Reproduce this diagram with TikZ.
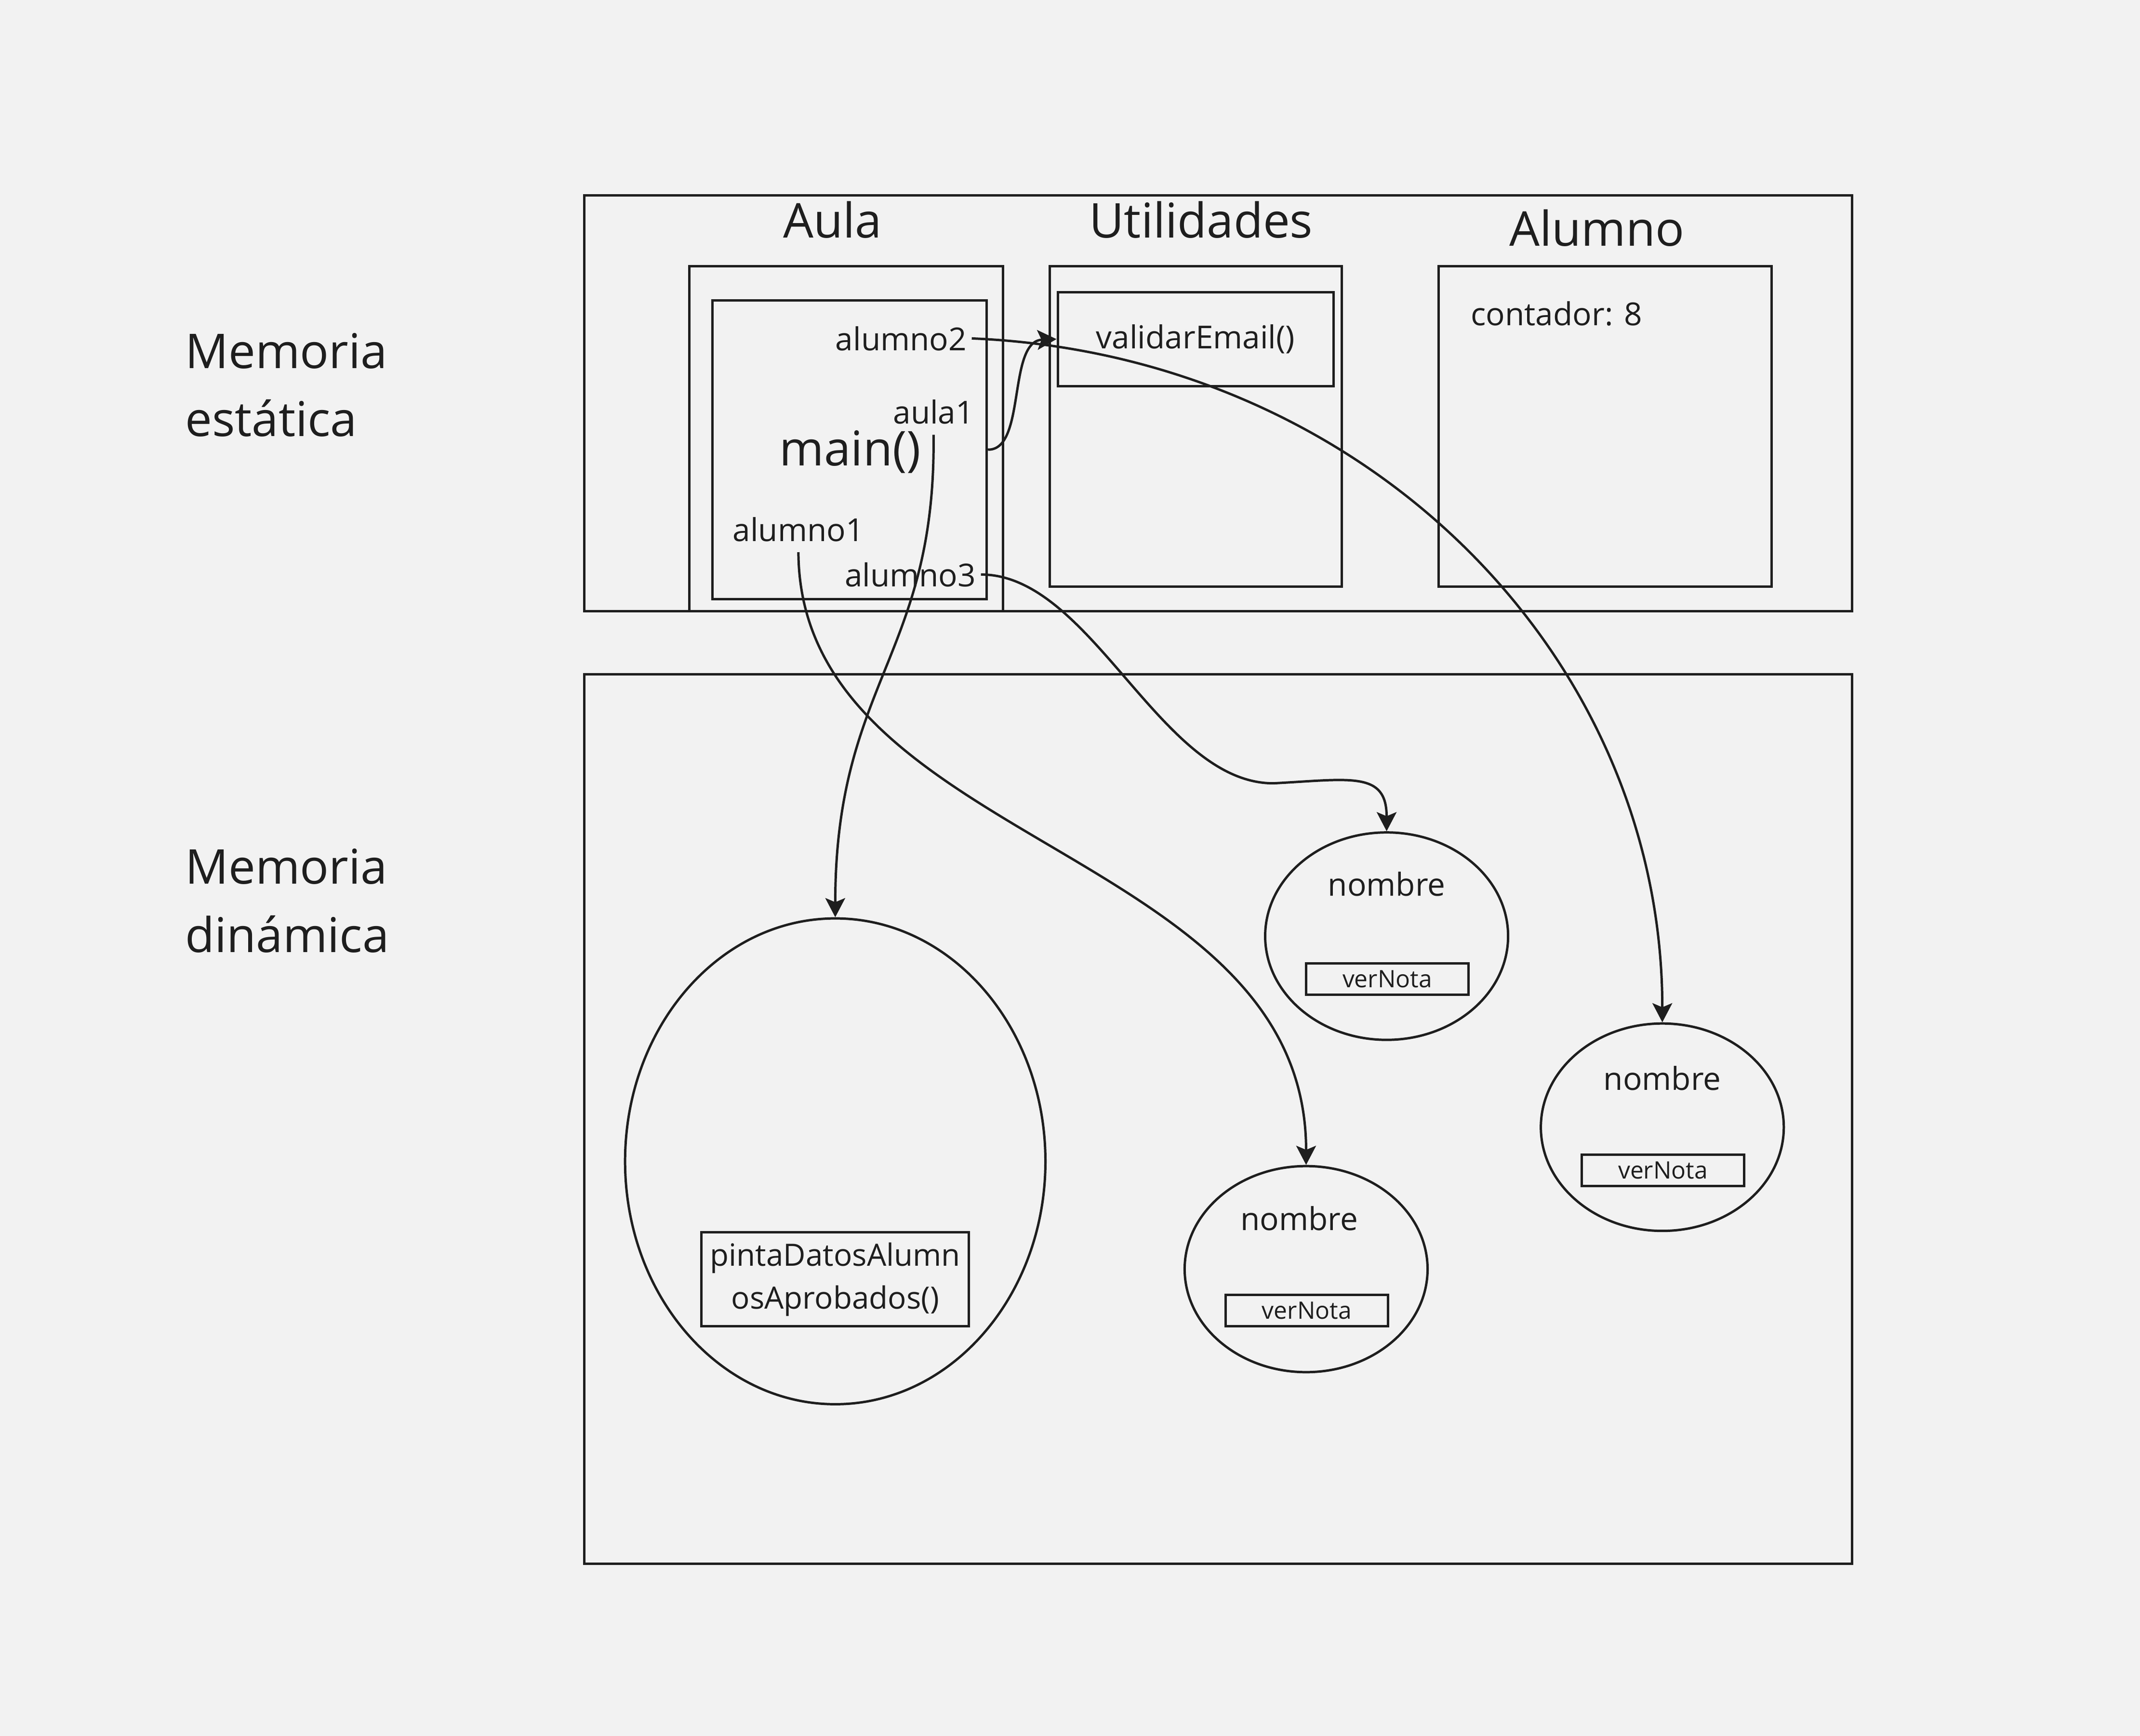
\documentclass[tikz,border=0pt]{standalone}
\usepackage{fontspec}
\setmainfont{Open Sans}
\usetikzlibrary{positioning,shapes.geometric,arrows.meta}
\definecolor{ink}{HTML}{1E1E1E}
\definecolor{paper}{HTML}{F2F2F2}
\tikzset{block/.style={draw=ink,line width=0.5pt,inner sep=0pt,text=ink}}
\tikzset{obj/.style={block,ellipse}}
\tikzset{method/.style={block,minimum width=11.9mm,minimum height=2.3mm,font=\fontsize{5}{6}\selectfont}}
\tikzset{title/.style={text=ink,inner sep=0pt,font=\fontsize{10}{14.2}\selectfont}}
\tikzset{var/.style={text=ink,inner xsep=0.3mm,inner ysep=0.7mm,font=\fontsize{6.6}{8}\selectfont}}
\tikzset{ref/.style={->,draw=ink,line width=0.5pt}}
\tikzset{>={Stealth[length=1.4mm,width=1.45mm,inset=0.3mm]}}

\begin{document}
\begin{tikzpicture}[x=0.1mm,y=-0.1mm]
    \fill [paper] (0,0) rectangle (1568,1272);
    \useasboundingbox (0,0) rectangle (1568,1272);
    \begin{scope}
        % memoria estatica
        \node (est) [title,anchor=west,align=left] at (135,282) {Memoria\\estática};
        \node (static) [block,minimum width=92.9mm,minimum height=30.5mm] at (892.5,295.5) {};

        \node (aula) [title] at (610,161) {Aula};
        \node (aulabox) [block,minimum width=23mm,minimum height=25.3mm] at (620,321.5) {};
        \node (main) [block,minimum width=20.1mm,minimum height=21.9mm] at (622.5,329.5) {};
        \node (mainlbl) [title] at (623,331) {main()};
        \node (alumno2) [var,anchor=east] at (712,248) {alumno2};
        \node (aula1) [var] at (684,302) {aula1};
        \node (alumno1) [var] at (585,388) {alumno1};
        \node (alumno3) [var] at (667,421) {alumno3};

        \node (util) [title] at (880,161) {Utilidades};
        \node (utilbox) [block,minimum width=21.4mm,minimum height=23.5mm] at (876,312.5) {};
        \node (valid) [block,minimum width=20.2mm,minimum height=6.9mm,font=\fontsize{6.6}{8}\selectfont] at (876,248.5) {validarEmail()};

        \node (alum) [title] at (1170,167) {Alumno};
        \node (alumbox) [block,minimum width=24.4mm,minimum height=23.5mm] at (1176,312.5) {};
        \node (cont) [var,anchor=west] at (1074,230) {contador: 8};

        % memoria dinamica
        \node (din) [title,anchor=west,align=left] at (135,660) {Memoria\\dinámica};
        \node (dynamic) [block,minimum width=92.9mm,minimum height=65.2mm] at (892.5,820) {};

        \node (aulaobj) [obj,minimum width=30.8mm,minimum height=35.6mm] at (612,851) {};
        \node (pinta) [block,minimum width=19.6mm,minimum height=6.9mm,align=center,font=\fontsize{6.4}{9}\selectfont] at (612,937.5) {pintaDatosAlumn\\osAprobados()};

        \node (ell1) [obj,minimum width=17.8mm,minimum height=15.2mm] at (1016,686) {};
        \node (nom1) [var] at (1016,648) {nombre};
        \node (ver1) [method] at (1016.5,717.5) {verNota};

        \node (ell2) [obj,minimum width=17.8mm,minimum height=15.1mm] at (957,930) {};
        \node (nom2) [var] at (952,893) {nombre};
        \node (ver2) [method] at (957.5,960.5) {verNota};

        \node (ell3) [obj,minimum width=17.8mm,minimum height=15.2mm] at (1218,826) {};
        \node (nom3) [var] at (1218,790) {nombre};
        \node (ver3) [method] at (1218.5,857.5) {verNota};

        % referencias
        \draw [ref] (main.east) .. controls (752,330) and (738,250) .. (valid.west);
        \draw [ref] (alumno2.east) .. controls (1000,260) and (1218,480) .. (ell3.north);
        \draw [ref] (alumno3.east) .. controls (800,421) and (850,574) .. (933,574) .. controls (990,571) and (1016,565) .. (ell1.north);
        \draw [ref] (alumno1.south) .. controls (586,620) and (957,620) .. (ell2.north);
        \draw [ref] (aula1.south) .. controls (686,480) and (612,500) .. (aulaobj.north);
    \end{scope}
\end{tikzpicture}
\end{document}
